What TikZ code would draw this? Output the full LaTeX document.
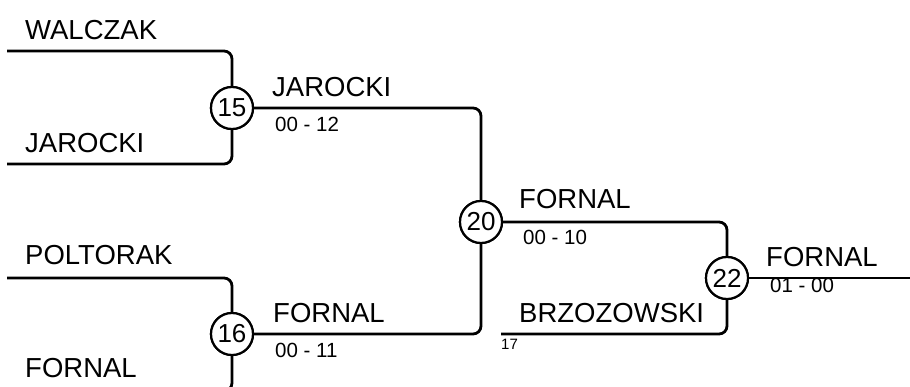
\documentclass[tikz,border=0pt]{standalone}
\usepackage{fontspec}
\setmainfont{Liberation Sans}
\begin{document}
\begin{tikzpicture}[x=1pt,y=-1pt,
  wire/.style={line width=2.8pt, rounded corners=8pt},
  match/.style={circle, draw, line width=2.2pt, fill=white, minimum size=42pt, inner sep=0pt, font=\fontsize{26}{26}\selectfont},
  player/.style={anchor=base west, inner sep=0pt, font=\fontsize{27.5}{27.5}\selectfont},
  score/.style={anchor=base west, inner sep=0pt, font=\fontsize{20.5}{20.5}\selectfont},
  seed/.style={anchor=base west, inner sep=0pt, font=\fontsize{15}{15}\selectfont}]
\useasboundingbox (0,0) rectangle (910,386);
\clip (0,0) rectangle (910,386);
% match circles
\node[match] (c15) at (232,108) {15};
\node[match] (c16) at (232,334) {16};
\node[match] (c20) at (481,222) {20};
\node[match] (c22) at (727,278) {22};
% free ends
\coordinate (s1) at (7,51);
\coordinate (s2) at (7,164);
\coordinate (s3) at (7,278);
\coordinate (s4) at (7,391);
\coordinate (s5) at (501,334);
\coordinate (fin) at (912,278);
% wires
\draw[wire] (s1) -| (c15.north);
\draw[wire] (s2) -| (c15.south);
\draw[wire] (s3) -| (c16.north);
\draw[wire] (s4) -| (c16.south);
\draw[wire] (c15.east) -| (c20.north);
\draw[wire] (c16.east) -| (c20.south);
\draw[wire] (c20.east) -| (c22.north);
\draw[wire] (s5) -| (c22.south);
\draw[wire] (c22.east) -- (fin);
% redraw circles on top
\node[match] at (c15) {15};
\node[match] at (c16) {16};
\node[match] at (c20) {20};
\node[match] at (c22) {22};
% player names
\node[player] (walczak) at (25,39) {WALCZAK};
\node[player] (jarocki1) at (25,152) {JAROCKI};
\node[player] (poltorak) at (25,264) {POLTORAK};
\node[player] (fornal1) at (25,377) {FORNAL};
\node[player] (jarocki2) at (272,96) {JAROCKI};
\node[player] (fornal2) at (273,322) {FORNAL};
\node[player] (fornal3) at (519,208) {FORNAL};
\node[player] (brzoz) at (519,322) {BRZOZOWSKI};
\node[player] (fornal4) at (766,266) {FORNAL};
% scores
\node[score] (sc15) at (275,131) {00 - 12};
\node[score] (sc16) at (275,357) {00 - 11};
\node[score] (sc20) at (523,244) {00 - 10};
\node[score] (sc22) at (770,292) {01 - 00};
\node[seed] (seed17) at (501,349) {17};
\end{tikzpicture}
\end{document}
